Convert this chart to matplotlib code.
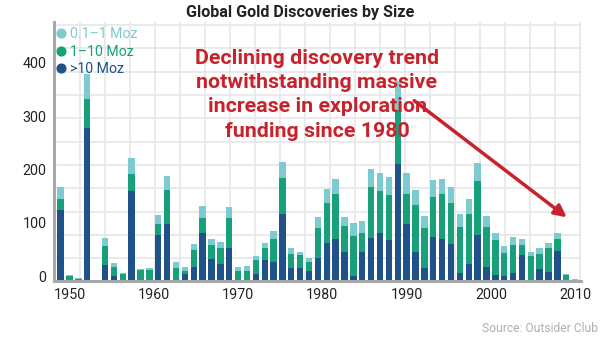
import numpy as np
import matplotlib
matplotlib.use("Agg")
import matplotlib.pyplot as plt
import matplotlib.transforms as mtransforms
from matplotlib.lines import Line2D

# discoveries per year, split by deposit size
years = np.arange(1950, 2009)
big = [134, 0, 2, 288, 0, 30, 10, 0, 168, 0, 0, 87, 107, 0, 13, 26, 90, 41, 32, 62,
       0, 0, 13, 40, 35, 125, 25, 24, 19, 43, 72, 78, 55, 10, 55, 80, 90, 77, 220, 107,
       55, 25, 82, 78, 69, 15, 32, 87, 26, 12, 9, 15, 48, 0, 22, 17, 56, 0, 0]
mid = [19, 9, 1, 54, 0, 36, 16, 13, 33, 20, 21, 20, 63, 24, 6, 33, 29, 26, 29, 56,
       19, 19, 26, 22, 44, 68, 25, 24, 16, 56, 75, 85, 48, 75, 36, 96, 79, 84, 101, 56,
       88, 75, 76, 86, 78, 86, 94, 101, 75, 65, 43, 52, 19, 46, 29, 44, 23, 12, 2]
small = [23, 3, 2, 47, 2, 14, 7, 2, 29, 3, 4, 17, 27, 11, 7, 10, 21, 12, 13, 20,
         7, 9, 7, 10, 14, 30, 11, 7, 8, 21, 25, 28, 18, 23, 22, 35, 33, 35, 55, 39,
         27, 22, 31, 28, 29, 25, 27, 34, 21, 14, 13, 16, 12, 9, 11, 11, 12, 2, 2]
labels = ["0.1\u20131 Moz", "1\u201310 Moz", ">10 Moz"]
xtick_years = [1950, 1960, 1970, 1980, 1990, 2000, 2010]
yticks = [0, 100, 200, 300, 400]
note = ["Declining discovery trend", "notwithstanding massive",
        "increase in exploration", "funding since 1980"]

c_small = "#7ecad1"
c_mid = "#18a07a"
c_big = "#1f5289"
red = "#c8232c"
font = "Roboto"

W, H = 600, 338
fig = plt.figure(figsize=(6, 3.38), dpi=100)

def px(x0, y0, x1, y1):
    return [x0 / W, 1 - y1 / H, (x1 - x0) / W, (y1 - y0) / H]

rect = px(53.5, 22, 581, 281)

# background grid (decorative, independent of the data scale)
bg = fig.add_axes(rect, zorder=0)
bg.set_xlim(53.5, 581)
bg.set_ylim(281, 22)
bg.set_xticks(np.arange(580, 54, -25))
bg.set_yticks(25 + 23.33 * np.arange(11))
bg.grid(True, color="#e6e6e6", lw=1.2)
bg.tick_params(length=0, labelleft=False, labelbottom=False)
for s in bg.spines.values():
    s.set_visible(False)

ax = fig.add_axes(rect, zorder=1)
ax.patch.set_alpha(0)
w = 0.72
ax.bar(years, big, width=w, color=c_big, label=labels[2])
ax.bar(years, mid, width=w, bottom=big, color=c_mid, label=labels[1])
ax.bar(years, small, width=w, bottom=np.add(big, mid), color=c_small, label=labels[0])

ax.set_xlim(1949.19, 2008.66)
ax.set_ylim(0, 486)

# year labels sit on a slightly compressed scale
ax.set_xticks([1970 + (y - 1970) * 0.95 for y in xtick_years])
ax.set_xticklabels([str(y) for y in xtick_years])
ax.set_yticks(yticks)
ax.set_yticklabels([str(v) for v in yticks])
ax.tick_params(length=0, labelsize=10.3, colors="#222222", pad=5)
shift = mtransforms.ScaledTranslation(0, 5 / 100, fig.dpi_scale_trans)
for t in ax.get_yticklabels():
    t.set_transform(t.get_transform() + shift)
for t in ax.get_xticklabels() + ax.get_yticklabels():
    t.set_family(font)

for side in ["top", "right"]:
    ax.spines[side].set_visible(False)
for side in ["left", "bottom"]:
    ax.spines[side].set_color("#a8a8a8")
    ax.spines[side].set_linewidth(2.2)

handles = [Line2D([], [], ls="", marker="o", ms=6.3, color=c) for c in (c_small, c_mid, c_big)]
leg = ax.legend(handles, labels, loc="upper left", bbox_to_anchor=(57 / W, 1 - 27 / H),
                bbox_transform=fig.transFigure, frameon=False, labelcolor="markerfacecolor",
                prop={"family": font, "size": 10.2}, handlelength=0.6, handletextpad=0.35,
                labelspacing=0.25, borderpad=0, borderaxespad=0)

fig.text(0.5, 1 - 12 / H, "Global Gold Discoveries by Size", ha="center", va="center",
         family=font, weight="bold", size=11.6, color="#222222")

for i, line in enumerate(note):
    fig.text(317 / W, 1 - (58 + 24.5 * i) / H, line, ha="center", va="center",
             family=font, weight="bold", size=15.4, color=red)

ax.annotate("", xy=(569, H - 219), xytext=(412, H - 99),
            xycoords="figure pixels", textcoords="figure pixels",
            arrowprops=dict(arrowstyle="-|>", color=red, lw=2.5, mutation_scale=18))

fig.text(598 / W, 1 - 328 / H, "Source: Outsider Club", ha="right", va="center",
         family=font, size=8.7, color="#b0b0b0")

fig.savefig("out.png", dpi=100)
